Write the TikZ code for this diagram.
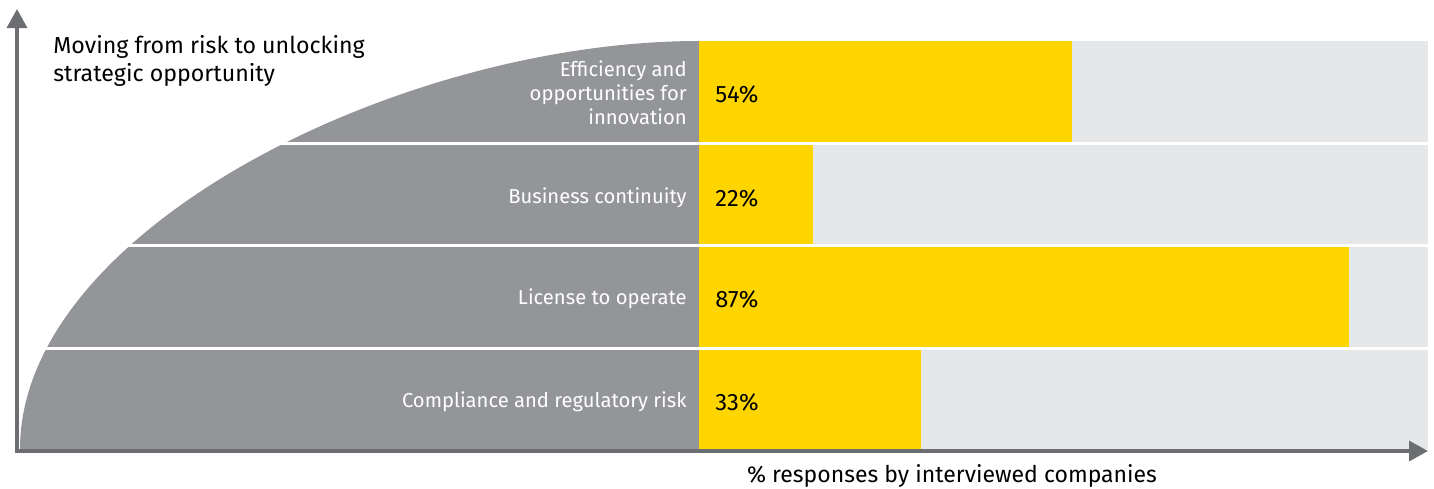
\documentclass[tikz,border=0pt]{standalone}
\usepackage{fontspec}
\setmainfont{Fira Sans}
\definecolor{areagrey}{RGB}{147, 149, 152}
\definecolor{barback}{RGB}{230, 231, 232}
\definecolor{baryellow}{RGB}{255, 213, 0}
\definecolor{axisgrey}{RGB}{109, 110, 113}
\usepackage{tikz}
\usetikzlibrary{arrows.meta, positioning}

\begin{document}
\begin{tikzpicture}[
  x=0.02cm, y=-0.02cm,
  catlabel/.style={anchor=east, align=right, text=white, inner sep=0pt, font=\fontsize{11.5}{13.7}\selectfont},
  pctlabel/.style={anchor=west, inner sep=0pt, font=\fontsize{13.5}{15}\selectfont},
  axisline/.style={draw=axisgrey, line width=2pt, {Triangle[length=0.38cm, width=0.4cm]}-{Triangle[length=0.38cm, width=0.4cm]}}
]
  \useasboundingbox (0,0) rectangle (1434,488);

  % The grey area and the bar background
  \fill[areagrey] (20,449) .. controls (20,230) and (400,41) .. (699,41) -- (699,449) -- cycle;
  \fill[barback] (699,41) rectangle (1428,449);

  % Yellow bars
  \fill[baryellow] (699,41) rectangle (1072,143.5);
  \fill[baryellow] (699,143.5) rectangle (813,245);
  \fill[baryellow] (699,245) rectangle (1349,348);
  \fill[baryellow] (699,348) rectangle (921,449);

  % White gaps between the rows
  \draw[white, line width=1.7pt] (20,143.5) -- (1434,143.5);
  \draw[white, line width=1.7pt] (20,245) -- (1434,245);
  \draw[white, line width=1.7pt] (20,348) -- (1434,348);

  % Row labels
  \node[catlabel] (eff) at (687,93) {Efficiency and\\opportunities for\\innovation};
  \node[catlabel] (bus) at (687,198) {Business continuity};
  \node[catlabel] (lic) at (687,299) {License to operate};
  \node[catlabel] (comp) at (687,402) {Compliance and regulatory risk};

  \node[pctlabel] (effpct) at (715,94.5) {54\%};
  \node[pctlabel] (buspct) at (715,198.5) {22\%};
  \node[pctlabel] (licpct) at (715,299.5) {87\%};
  \node[pctlabel] (comppct) at (715,402.5) {33\%};

  % Axes
  \coordinate (origin) at (17,451);
  \coordinate (ytip) at (17,9);
  \coordinate (xtip) at (1428,451);
  \draw[axisline] (ytip) -- (origin) -- (xtip);

  \node[anchor=north west, align=left, inner sep=0pt, font=\fontsize{13.2}{15.9}\selectfont] (title) at (53,35) {Moving from risk to unlocking\\strategic opportunity};
  \node[inner sep=0pt, font=\fontsize{13.1}{15}\selectfont] (xlabel) at (952,476) {\% responses by interviewed companies};
\end{tikzpicture}
\end{document}
